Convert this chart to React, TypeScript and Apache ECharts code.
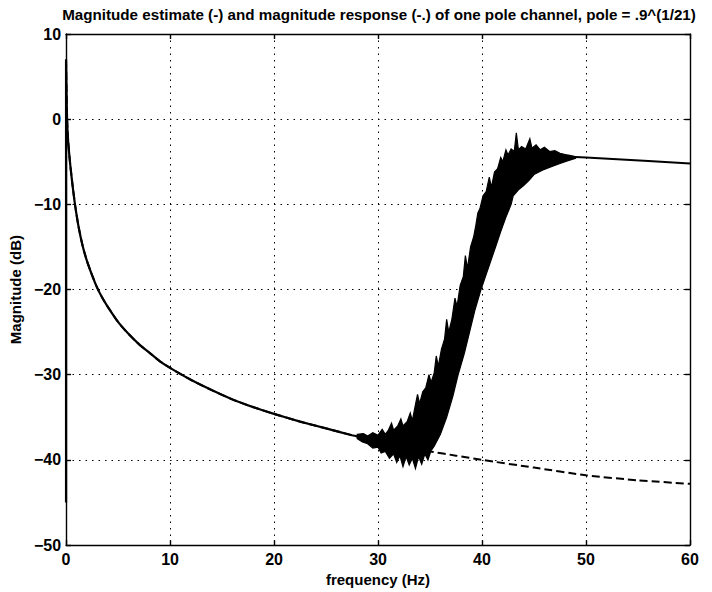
import React, { useEffect, useRef } from "react";
import * as echarts from "echarts";

const titleText =
  "Magnitude estimate (-) and magnitude response (-.) of one pole channel, pole = .9^(1/21)";
const xName = "frequency (Hz)";
const yName = "Magnitude (dB)";

// magnitude response (dashed)
const responseFreq = [0, 0.05, 0.1, 0.2, 0.4, 0.6, 0.86, 1.2, 1.6, 2.0, 2.5, 3.0, 3.5, 4, 5, 6, 7, 8, 9, 10, 12, 14, 16, 18, 20, 22.5, 25, 27.5, 30, 32.5, 35, 37.5, 40, 45, 50, 55, 60];
const responseDb = [7, 3, 0, -2.5, -5.3, -7.5, -10, -12.6, -14.9, -16.6, -18.3, -19.8, -21.0, -22.0, -23.8, -25.2, -26.4, -27.4, -28.4, -29.2, -30.6, -31.8, -32.9, -33.8, -34.6, -35.5, -36.3, -37.1, -37.8, -38.4, -39.0, -39.5, -40.0, -40.9, -41.8, -42.4, -42.8];

// magnitude estimate (solid), smooth low part
const estLowFreq = [0, 0, 0.05, 0.1, 0.2, 0.4, 0.6, 0.86, 1.2, 1.6, 2.0, 2.5, 3.0, 3.5, 4, 5, 6, 7, 8, 9, 10, 12, 14, 16, 18, 20, 22.5, 25, 27.5, 28.2];
const estLowDb = [-45, 7, 3, 0, -2.5, -5.3, -7.5, -10, -12.6, -14.9, -16.6, -18.3, -19.8, -21.0, -22.0, -23.8, -25.2, -26.4, -27.4, -28.4, -29.2, -30.6, -31.8, -32.9, -33.8, -34.6, -35.5, -36.3, -37.1, -37.3];

// magnitude estimate, smooth high part
const estHighFreq = [48.5, 50, 53, 56, 60];
const estHighDb = [-4.4, -4.5, -4.7, -4.9, -5.2];

// noisy band of the estimate: upper envelope
const bandTopFreq = [28, 28.6, 29, 29.5, 30, 30.4, 30.7, 31.0, 31.3, 31.5, 31.9, 32.2, 32.4, 32.8, 33.1, 33.3, 33.6, 33.8, 34.0, 34.3, 34.6, 34.9, 35.1, 35.4, 35.6, 35.8, 36.1, 36.4, 36.6, 36.8, 37.1, 37.4, 37.6, 37.9, 38.2, 38.4, 38.6, 38.9, 39.2, 39.4, 39.6, 39.8, 40.1, 40.4, 40.7, 40.9, 41.2, 41.5, 41.8, 42.0, 42.3, 42.5, 42.8, 43.1, 43.3, 43.5, 43.8, 44.2, 44.6, 44.8, 45.2, 45.6, 46.0, 46.5, 47.0, 47.5, 48.2, 49.0];
const bandTopDb = [-37.0, -36.9, -37.2, -36.8, -37.1, -36.4, -37.0, -36.5, -35.7, -36.5, -36.0, -35.2, -36.0, -35.5, -34.5, -35.4, -33.5, -32.3, -33.4, -32.0, -31.5, -30.0, -30.9, -29.8, -27.8, -29.0, -27.0, -25.8, -23.5, -25.0, -23.5, -21.0, -22.0, -19.5, -18.5, -16.0, -17.5, -15.0, -13.8, -12.5, -11.0, -10.5, -9.0, -8.5, -6.8, -8.0, -6.2, -5.8, -4.5, -5.0, -3.6, -4.2, -3.5, -3.8, -1.6, -3.6, -3.2, -3.5, -2.3, -3.4, -3.0, -3.6, -3.3, -3.8, -3.7, -4.0, -4.2, -4.4];

// noisy band of the estimate: lower envelope
const bandBottomFreq = [49, 48.2, 47.5, 46.6, 45.8, 45.0, 44.5, 44.0, 43.5, 43.0, 42.8, 42.3, 41.8, 41.3, 40.6, 39.9, 39.3, 38.8, 38.3, 37.7, 37.2, 36.6, 36.0, 35.4, 35.1, 34.8, 34.5, 34.2, 33.9, 33.6, 33.3, 33.0, 32.7, 32.4, 32.1, 31.8, 31.5, 31.1, 30.7, 30.3, 30.0, 29.5, 29.0, 28.5, 28.0];
const bandBottomDb = [-4.6, -4.9, -5.2, -5.6, -6.0, -6.5, -7.2, -7.8, -8.3, -9.0, -10.0, -11.5, -13.2, -15.0, -17.5, -20.0, -22.5, -25.0, -27.5, -30.0, -32.5, -35.0, -37.0, -38.4, -38.9, -40.0, -39.3, -40.5, -39.6, -41.0, -39.8, -40.6, -39.6, -40.8, -39.5, -40.3, -39.3, -39.8, -39.0, -39.2, -38.5, -38.6, -38.1, -37.9, -37.5];

const zip = (a: number[], b: number[]) => a.map((v, i) => [v, b[i]]);

const FONT = "Liberation Sans, Arial, Helvetica, sans-serif";

export default function App() {
  const ref = useRef<HTMLDivElement>(null);
  useEffect(() => {
    if (!ref.current) return;
    const chart = echarts.init(ref.current, undefined, { renderer: "svg" });
    const bandPoints = [...zip(bandTopFreq, bandTopDb), ...zip(bandBottomFreq, bandBottomDb)];
    const axisCommon = {
      axisLine: { show: true, onZero: false, lineStyle: { color: "#000", width: 1.4 } },
      axisTick: { show: true, inside: true, length: 5, lineStyle: { color: "#000", width: 1.4 } },
    };
    chart.setOption({
      animation: false,
      backgroundColor: "#fff",
      grid: { left: 61, top: 34, width: 629, height: 513, containLabel: false },
      graphic: [
        {
          type: "text",
          x: 379,
          y: 14,
          style: {
            text: titleText,
            fill: "#000",
            font: `bold 15.2px ${FONT}`,
            textAlign: "center",
            textVerticalAlign: "middle",
          },
        },
      ],
      xAxis: [
        {
          type: "value",
          min: 0,
          max: 60,
          interval: 10,
          position: "bottom",
          ...axisCommon,
          name: xName,
          nameLocation: "middle",
          nameGap: 23,
          nameTextStyle: { color: "#000", fontSize: 15, fontWeight: "bold", fontFamily: FONT },
          axisLabel: { color: "#000", fontSize: 16, fontWeight: "bold", fontFamily: FONT, margin: 6 },
          splitLine: { show: true, lineStyle: { color: "#000", width: 1, type: [1.5, 5] } },
        },
        {
          type: "value",
          min: 0,
          max: 60,
          interval: 10,
          position: "top",
          ...axisCommon,
          axisLabel: { show: false },
          splitLine: { show: false },
        },
      ],
      yAxis: [
        {
          type: "value",
          min: -50,
          max: 10,
          interval: 10,
          position: "left",
          ...axisCommon,
          name: yName,
          nameLocation: "middle",
          nameGap: 40,
          nameRotate: 90,
          nameTextStyle: { color: "#000", fontSize: 15, fontWeight: "bold", fontFamily: FONT },
          axisLabel: {
            color: "#000",
            fontSize: 16,
            fontWeight: "bold",
            fontFamily: FONT,
            margin: 5,
            formatter: (v: number) => String(v).replace("-", "\u2212"),
          },
          splitLine: { show: true, lineStyle: { color: "#000", width: 1, type: [1.5, 5] } },
        },
        {
          type: "value",
          min: -50,
          max: 10,
          interval: 10,
          position: "right",
          ...axisCommon,
          axisLabel: { show: false },
          splitLine: { show: false },
        },
      ],
      series: [
        {
          type: "line",
          name: "response",
          data: zip(responseFreq, responseDb),
          symbol: "none",
          smooth: 0.2,
          lineStyle: { color: "#000", width: 2, type: [8, 4] },
          z: 2,
        },
        {
          type: "line",
          name: "estimate",
          data: zip(estLowFreq, estLowDb),
          symbol: "none",
          smooth: 0.2,
          lineStyle: { color: "#000", width: 2.2 },
          z: 3,
        },
        {
          type: "line",
          name: "estimate-high",
          data: zip(estHighFreq, estHighDb),
          symbol: "none",
          lineStyle: { color: "#000", width: 2 },
          z: 3,
        },
        {
          type: "custom",
          name: "estimate-band",
          coordinateSystem: "cartesian2d",
          data: [[40, -20]],
          encode: { x: 0, y: 1 },
          renderItem: (_params: any, api: any) => {
            const pts = bandPoints.map((p) => api.coord(p));
            return {
              type: "polygon",
              shape: { points: pts },
              style: { fill: "#000", stroke: "#000", lineWidth: 1.2, lineJoin: "miter" },
            };
          },
          z: 3,
        },
      ],
    });
    return () => chart.dispose();
  }, []);
  return (
    <div
      ref={ref}
      style={{ position: "fixed", left: 0, top: 0, width: 712, height: 592, background: "#fff" }}
    />
  );
}
